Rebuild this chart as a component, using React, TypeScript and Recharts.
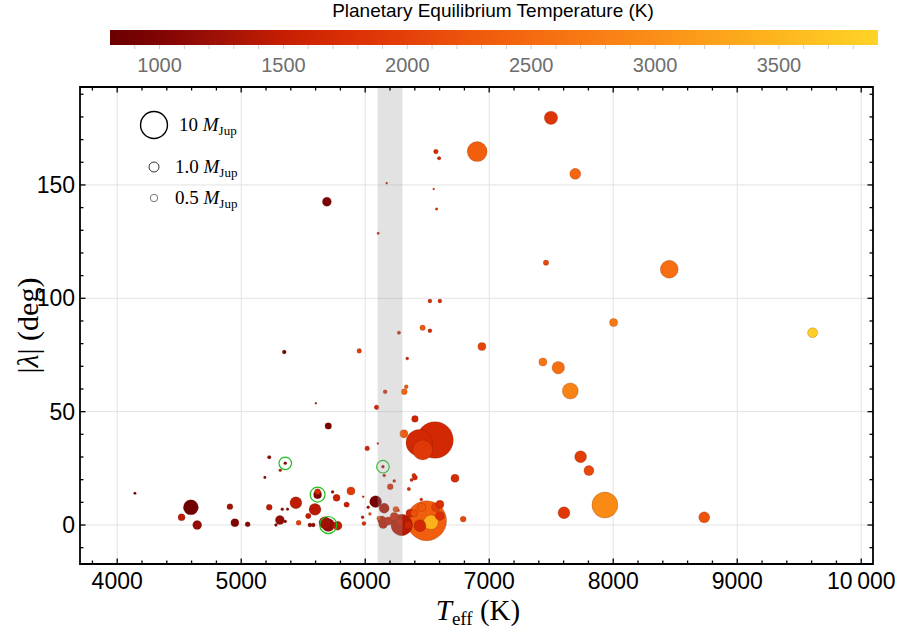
import React from "react";
import { ScatterChart, Scatter, XAxis, YAxis, ReferenceArea, ReferenceLine } from "recharts";

// ---------------- data ----------------
const teff = [
  7498, 6903, 6570, 6596, 7694, 6552, 6576, 5691, 6173, 6105,
  6522, 6602, 6463, 6522, 6272, 5952, 6339, 6331, 6315, 6161,
  6092, 6401, 6941, 7458, 8003, 7433, 7557, 7654, 8452, 9608,
  7933, 8734, 7804, 7737, 7603, 5347, 6563, 6436, 6463, 6312,
  6102, 6016, 6143, 6153, 6234, 6202, 6393, 6401, 6374, 6724,
  6352, 6452, 6790, 6084, 6153, 6248, 6270, 6133, 6186, 6110,
  6145, 6234, 6280, 6294, 6347, 6361, 6495, 6530, 6441, 6455,
  6395, 6568, 6602, 6602, 5984, 6024, 6038, 5979, 5990, 5226,
  5355, 5315, 5191, 5616, 5616, 5737, 5769, 5885, 5850, 5441,
  5595, 5226, 5331, 5374, 4909, 5541, 5312, 5355, 5280, 5463,
  5554, 5581, 4949, 5052, 5702, 5675, 5777, 4143, 4594, 4519,
  4645, 5602, 5702,
];
const lambdaAbs = [
  179.6, 164.7, 164.7, 161.8, 154.9, 148.2, 139.4, 142.6, 150.8, 128.7,
  98.8, 98.8, 87.0, 85.7, 84.8, 76.8, 73.4, 61.0, 58.8, 58.8,
  51.9, 46.8, 78.7, 115.7, 89.3, 71.9, 69.4, 59.1, 112.8, 84.8,
  8.8, 3.4, 24.0, 30.1, 5.4, 76.3, 37.5, 36.3, 33.1, 40.2,
  36.0, 33.8, 25.7, 21.8, 19.4, 16.9, 21.9, 20.9, 19.9, 20.6,
  15.9, 11.3, 2.6, 10.3, 7.4, 6.9, 6.4, 2.2, 1.8, 3.0,
  0.4, 3.7, 1.2, 0.0, 0.0, 5.2, 1.9, 1.2, -0.3, 7.8,
  5.2, 7.8, 9.1, 4.0, 12.5, 7.8, 4.9, 3.4, 0.7, 29.9,
  27.2, 24.1, 21.0, 13.4, 14.7, 14.6, 12.0, 15.0, 9.0, 9.8,
  6.9, 7.8, 6.9, 7.0, 8.1, 4.0, 2.2, 1.5, 0.0, 1.0,
  0.0, 0.0, 1.0, 0.3, 0.0, 1.0, -0.3, 14.0, 7.8, 3.4,
  0.0, 53.7, 43.7,
];
const massJup = [
  1.97, 5.0, 0.17, 0.09, 1.25, 0.024, 0.04, 0.78, 0.024, 0.035,
  0.12, 0.12, 0.24, 0.12, 0.09, 0.17, 0.06, 0.12, 0.3, 0.12,
  0.17, 0.38, 0.6, 0.24, 0.6, 0.6, 1.7, 3.0, 3.9, 1.0,
  9.2, 1.25, 1.0, 1.5, 1.5, 0.12, 20.4, 9.7, 5.0, 0.6,
  0.024, 0.17, 0.06, 0.06, 0.06, 0.3, 0.12, 0.2, 0.08, 0.6,
  0.09, 0.06, 0.3, 1.5, 1.0, 0.3, 0.024, 0.6, 0.6, 0.12,
  0.78, 0.6, 0.6, 5.9, 0.6, 0.6, 25.0, 2.4, 1.5, 0.6,
  0.44, 0.6, 0.6, 0.78, 0.024, 0.06, 0.06, 0.06, 0.12, 0.09,
  0.06, 0.06, 0.045, 0.6, 0.3, 0.06, 0.44, 0.6, 0.24, 1.5,
  1.5, 0.3, 0.06, 0.045, 0.3, 0.24, 0.78, 0.06, 0.06, 0.2,
  0.12, 0.12, 0.6, 0.2, 1.84, 1.5, 0.78, 0.045, 2.57, 0.44,
  0.78, 0.024, 0.38,
];
const teqK = [
  1850, 2350, 1700, 1650, 2450, 2100, 1700, 950, 1500, 1500,
  1700, 1700, 2300, 1650, 1600, 1950, 1600, 2300, 2450, 1700,
  1600, 1600, 2050, 2100, 2700, 2650, 2550, 2850, 2550, 3800,
  2950, 2200, 2100, 1950, 1900, 1000, 1650, 1650, 1900, 2300,
  1500, 1600, 1200, 1500, 1500, 1700, 1700, 1650, 1700, 1700,
  1650, 1700, 2100, 900, 1300, 2100, 1500, 1400, 1450, 2100,
  1400, 1550, 1500, 1400, 1600, 1650, 2350, 3450, 1650, 2300,
  2200, 2000, 1750, 1750, 1500, 1300, 2200, 1400, 1750, 1100,
  1000, 1400, 1050, 950, 1650, 1100, 1550, 1900, 1500, 1450,
  1400, 1450, 1200, 1100, 1250, 1500, 1150, 1100, 1100, 2000,
  1100, 1150, 1000, 1050, 1150, 1250, 1450, 1000, 850, 1450,
  1150, 1300, 950,
];

// highlighted planets (green rings)
const ringTeff = [5355, 5616, 5702, 6143];
const ringLambda = [27.2, 13.4, 0.0, 25.7];
const ringMass = [0.06, 0.6, 1.84, 0.06];

// axis ticks / labels
const xMajor = [4000, 5000, 6000, 7000, 8000, 9000, 10000];
const xLabels = ["4000", "5000", "6000", "7000", "8000", "9000", "10\u2009000"];
const yMajor = [0, 50, 100, 150];
const yLabels = ["0", "50", "100", "150"];
const bandRange = [6100, 6300];

// colour bar
const cbTicks = [1000, 1500, 2000, 2500, 3000, 3500];
const cbLabels = ["1000", "1500", "2000", "2500", "3000", "3500"];
const cbDomain = [800, 3900];

// legend
const legendMasses = [10, 1.0, 0.5];
const legendLabels = ["10", "1.0", "0.5"];

// ---------------- styling helpers ----------------
const W = 897;
const H = 631;
const PL = 80, PR = 873, PT = 87, PB = 564;
const X_DOMAIN = [3700, 10095];
const Y_DOMAIN = [-17.2, 193.2];

const colorStops: [number, number[]][] = [
  [800, [106, 0, 0]],
  [1000, [128, 4, 4]],
  [1250, [160, 18, 6]],
  [1500, [198, 30, 2]],
  [1750, [218, 46, 4]],
  [2000, [228, 64, 10]],
  [2250, [238, 86, 12]],
  [2500, [245, 106, 16]],
  [2750, [248, 124, 20]],
  [3000, [251, 142, 22]],
  [3250, [252, 162, 26]],
  [3500, [253, 182, 30]],
  [3900, [255, 212, 38]],
];
function teqColor(t: number) {
  if (t <= colorStops[0][0]) return `rgb(${colorStops[0][1].join(",")})`;
  for (let i = 1; i < colorStops.length; i++) {
    const [t1, c1] = colorStops[i];
    const [t0, c0] = colorStops[i - 1];
    if (t <= t1) {
      const f = (t - t0) / (t1 - t0);
      const c = c0.map((v, k) => Math.round(v + f * (c1[k] - v)));
      return `rgb(${c.join(",")})`;
    }
  }
  return `rgb(${colorStops[colorStops.length - 1][1].join(",")})`;
}
const radius = (m: number) => Math.max(1, 5 * Math.pow(m, 0.43));

const points = teff
  .map((x, i) => ({ x, y: lambdaAbs[i], m: massJup[i], t: teqK[i] }))
  .sort((a, b) => b.m - a.m);
const rings = ringTeff.map((x, i) => ({ x, y: ringLambda[i], m: ringMass[i] }));

const xTicks: number[] = [];
for (let v = 3800; v <= 10000; v += 200) xTicks.push(v);
const yTicks: number[] = [];
for (let v = -10; v <= 190; v += 10) yTicks.push(v);

const sans = "'Liberation Sans', Arial, sans-serif";
const serif = "'Liberation Serif', 'Times New Roman', serif";

const PlanetShape = (props: any) => {
  const { cx, cy, payload } = props;
  if (cx == null || cy == null) return null;
  return (
    <circle
      cx={cx}
      cy={cy}
      r={radius(payload.m)}
      fill={teqColor(payload.t)}
      stroke="rgba(90,20,0,0.35)"
      strokeWidth={0.6}
    />
  );
};
const RingShape = (props: any) => {
  const { cx, cy, payload } = props;
  if (cx == null || cy == null) return null;
  return <circle cx={cx} cy={cy} r={5.6 + 0.45 * radius(payload.m)} fill="none" stroke="#1fbf1f" strokeWidth={1.2} />;
};

const XTick = (props: any) => {
  const { x, y, payload } = props;
  const v = payload.value;
  const mi = xMajor.indexOf(v);
  const len = mi >= 0 ? 5.5 : 3.5;
  return (
    <g>
      <line x1={x} x2={x} y1={y} y2={y - len} stroke="#000" strokeWidth={1.3} />
      <line x1={x} x2={x} y1={PT} y2={PT + len} stroke="#000" strokeWidth={1.3} />
      {mi >= 0 && (
        <text x={x} y={y + 25} textAnchor="middle" fontFamily={sans} fontSize={23} fill="#000">
          {xLabels[mi]}
        </text>
      )}
    </g>
  );
};
const YTick = (props: any) => {
  const { x, y, payload } = props;
  const v = payload.value;
  const mi = yMajor.indexOf(v);
  const len = mi >= 0 ? 5.5 : 3.5;
  return (
    <g>
      <line x1={x} x2={x + len} y1={y} y2={y} stroke="#000" strokeWidth={1.3} />
      <line x1={PR} x2={PR - len} y1={y} y2={y} stroke="#000" strokeWidth={1.3} />
      {mi >= 0 && (
        <text x={x - 5} y={y + 8} textAnchor="end" fontFamily={sans} fontSize={23} fill="#000">
          {yLabels[mi]}
        </text>
      )}
    </g>
  );
};

// colour bar geometry
const CB_L = 110, CB_R = 878, CB_T = 30, CB_B = 45;
const cbX = (t: number) => CB_L + ((t - cbDomain[0]) / (cbDomain[1] - cbDomain[0])) * (CB_R - CB_L);
const cbMinor: number[] = [];
for (let v = 900; v <= 3800; v += 100) cbMinor.push(v);

export default function App() {
  const legendY = [125, 167, 198];
  return (
    <div style={{ position: "absolute", left: 0, top: 0, width: W, height: H, background: "#fff" }}>
      <ScatterChart width={W} height={H} margin={{ top: PT, right: W - PR, bottom: 0, left: 0 }}>
        {xMajor.map((v) => (
          <ReferenceLine key={"gx" + v} x={v} stroke="#e3e3e3" strokeWidth={1} />
        ))}
        {yMajor.map((v) => (
          <ReferenceLine key={"gy" + v} y={v} stroke="#e3e3e3" strokeWidth={1} />
        ))}
        <XAxis
          type="number"
          dataKey="x"
          domain={X_DOMAIN}
          ticks={xTicks}
          interval={0}
          allowDataOverflow
          axisLine={false}
          tickLine={false}
          tickSize={0}
          tickMargin={0}
          height={H - PB}
          tick={<XTick />}
        />
        <YAxis
          type="number"
          dataKey="y"
          domain={Y_DOMAIN}
          ticks={yTicks}
          interval={0}
          allowDataOverflow
          axisLine={false}
          tickLine={false}
          tickSize={0}
          tickMargin={0}
          width={PL}
          tick={<YTick />}
        />
        <Scatter data={points} isAnimationActive={false} shape={<PlanetShape />} />
        <Scatter data={rings} isAnimationActive={false} shape={<RingShape />} />
        <ReferenceArea
          x1={bandRange[0]}
          x2={bandRange[1]}
          fill="#a0a0a0"
          fillOpacity={0.3}
          stroke="none"
          ifOverflow="hidden"
          zIndex={700}
        />
        <ReferenceArea
          x1={X_DOMAIN[0]}
          x2={X_DOMAIN[1]}
          y1={Y_DOMAIN[0]}
          y2={Y_DOMAIN[1]}
          fill="none"
          stroke="#000"
          strokeWidth={1.8}
          ifOverflow="visible"
          zIndex={800}
        />
      </ScatterChart>

      <svg width={W} height={H} style={{ position: "absolute", left: 0, top: 0, pointerEvents: "none" }}>
        <defs>
          <linearGradient id="cbgrad" x1="0" x2="1" y1="0" y2="0">
            {colorStops.map(([t, c]) => (
              <stop
                key={t}
                offset={(t - cbDomain[0]) / (cbDomain[1] - cbDomain[0])}
                stopColor={`rgb(${c.join(",")})`}
              />
            ))}
          </linearGradient>
        </defs>
        <text x={493} y={17} textAnchor="middle" fontFamily={sans} fontSize={19} fill="#000">
          Planetary Equilibrium Temperature (K)
        </text>
        <rect x={CB_L} y={CB_T} width={CB_R - CB_L} height={CB_B - CB_T} fill="url(#cbgrad)" />
        {cbMinor.map((t) => (
          <line key={"cm" + t} x1={cbX(t)} x2={cbX(t)} y1={CB_B} y2={CB_B + 4} stroke="#d0d0d0" strokeWidth={1} />
        ))}
        {cbTicks.map((t, i) => (
          <text key={"ct" + t} x={cbX(t)} y={72} textAnchor="middle" fontFamily={sans} fontSize={20} fill="#6e6e6e">
            {cbLabels[i]}
          </text>
        ))}

        {/* size legend */}
        {legendMasses.map((m, i) => (
          <g key={"lg" + i}>
            <circle
              cx={154}
              cy={legendY[i]}
              r={radius(m)}
              fill="none"
              stroke={i === 0 ? "#000" : i === 1 ? "#333" : "#777"}
              strokeWidth={i === 0 ? 1.4 : 1}
            />
            <text x={i === 0 ? 179 : 175} y={legendY[i] + 6} fontFamily={serif} fontSize={19} fill="#000">
              {legendLabels[i] + " "}
              <tspan fontStyle="italic">M</tspan>
              <tspan fontSize={13} dy={4}>Jup</tspan>
            </text>
          </g>
        ))}

        {/* axis titles */}
        <text x={478} y={620} textAnchor="middle" fontFamily={serif} fontSize={29} fill="#000">
          <tspan fontStyle="italic">T</tspan>
          <tspan fontSize={19} dy={5}>eff</tspan>
          <tspan dy={-5}> (K)</tspan>
        </text>
        <text
          transform={`translate(38, ${(PT + PB) / 2}) rotate(-90)`}
          textAnchor="middle"
          fontFamily={serif}
          fontSize={30}
          fill="#000"
        >
          |<tspan fontStyle="italic">λ</tspan>| (deg)
        </text>
      </svg>
    </div>
  );
}
